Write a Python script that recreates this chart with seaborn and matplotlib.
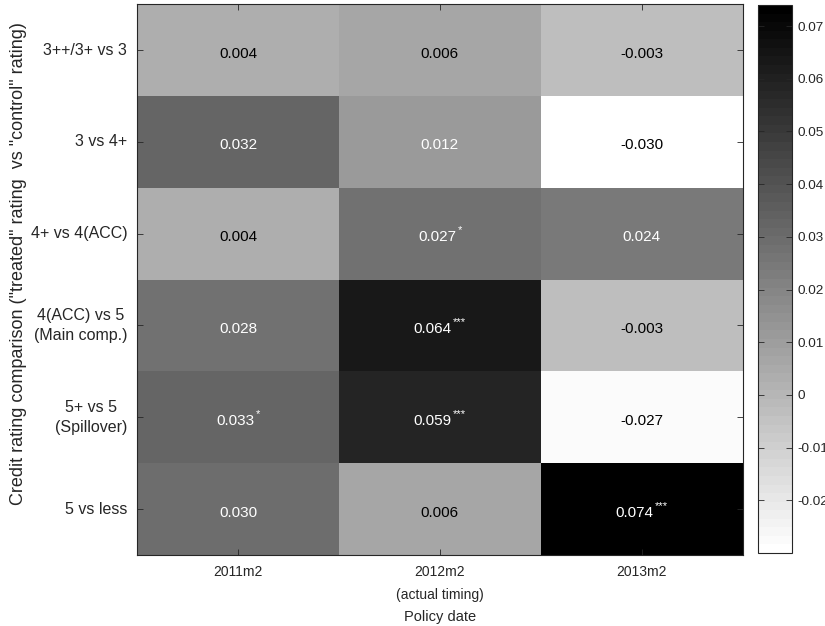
import numpy as np
import pandas as pd
import matplotlib
matplotlib.use("Agg")
import matplotlib.pyplot as plt
from matplotlib.colors import ListedColormap
from matplotlib.font_manager import FontProperties
import seaborn as sns

# Estimated effects by credit-rating comparison (rows) and policy date (columns)
comparisons = ["3++/3+ vs 3", "3 vs 4+", "4+ vs 4(ACC)",
               "4(ACC) vs 5\n(Main comp.)", "5+ vs 5\n(Spillover)", "5 vs less"]
policy_dates = ["2011m2", "2012m2\n(actual timing)", "2013m2"]

effect_2011m2 = [0.004, 0.032, 0.004, 0.028, 0.033, 0.030]
effect_2012m2 = [0.006, 0.012, 0.027, 0.064, 0.059, 0.006]
effect_2013m2 = [-0.003, -0.030, 0.024, -0.003, -0.027, 0.074]

stars_2011m2 = ["", "", "", "", "*", ""]
stars_2012m2 = ["", "", "*", "***", "***", ""]
stars_2013m2 = ["", "", "", "", "", "***"]

cbar_ticks = [-0.02, -0.01, 0, 0.01, 0.02, 0.03, 0.04, 0.05, 0.06, 0.07]

df = pd.DataFrame({policy_dates[0]: effect_2011m2,
                   policy_dates[1]: effect_2012m2,
                   policy_dates[2]: effect_2013m2}, index=comparisons)
stars = pd.DataFrame({policy_dates[0]: stars_2011m2,
                      policy_dates[1]: stars_2012m2,
                      policy_dates[2]: stars_2013m2}, index=comparisons)

plt.rcParams["font.family"] = ["Liberation Sans", "DejaVu Sans"]

text_col = "#262626"
cmap = ListedColormap(plt.get_cmap("gray_r")(np.linspace(0, 1, 64)))
vmin, vmax = df.values.min(), df.values.max()

DPI = 100
fig = plt.figure(figsize=(8.25, 6.26), dpi=DPI)
ax = fig.add_axes([0.166, 0.1134, 0.7345, 0.880])
cax = fig.add_axes([0.9188, 0.1166, 0.0412, 0.8754])

sns.heatmap(df, ax=ax, cmap=cmap, vmin=vmin, vmax=vmax, cbar=True, cbar_ax=cax,
            annot=False, linewidths=0)

# cell labels: value centred together with its significance stars
renderer = fig.canvas.get_renderer()
num_size, star_size, gap_pt = 11, 8, 1.0
num_prop = FontProperties(family="Liberation Sans", size=num_size)
star_prop = FontProperties(family="Liberation Sans", size=star_size)
px2pt = 72.0 / DPI
for i, row in enumerate(comparisons):
    for j, col in enumerate(policy_dates):
        v = df.loc[row, col]
        s = stars.loc[row, col]
        level = (v - vmin) / (vmax - vmin)
        color = "white" if level > 0.38 else "black"
        label = f"{v:.3f}"
        w_num = renderer.get_text_width_height_descent(label, num_prop, ismath=False)[0] * px2pt
        w_star = 0.0
        if s:
            w_star = renderer.get_text_width_height_descent(s, star_prop, ismath=False)[0] * px2pt + gap_pt
        shift = w_star / 2
        base_y = -5.4
        ax.annotate(label, xy=(j + 0.5, i + 0.5), xytext=(-shift, base_y),
                    textcoords="offset points", ha="center", va="baseline",
                    fontsize=num_size, color=color)
        if s:
            ax.annotate(s, xy=(j + 0.5, i + 0.5),
                        xytext=(-shift + w_num / 2 + gap_pt, base_y + 5.5),
                        textcoords="offset points", ha="left", va="baseline",
                        fontsize=star_size, color=color)

for sp in ax.spines.values():
    sp.set_visible(True)
    sp.set_color(text_col)
    sp.set_linewidth(0.8)

ax.tick_params(direction="in", top=True, right=True, length=4, width=0.6,
               color=text_col, labelcolor=text_col)
ax.tick_params(axis="y", labelsize=11.5, pad=7)
ax.tick_params(axis="x", labelsize=10, pad=7.5)
ax.set_yticklabels(comparisons, rotation=0, multialignment="center", linespacing=1.45)
ax.set_xticklabels(policy_dates, rotation=0, multialignment="center", linespacing=1.8)
ax.set_xlabel("Policy date", fontsize=10.5, color=text_col)
ax.set_ylabel('Credit rating comparison ("treated" rating  vs "control" rating)',
              fontsize=13, color=text_col)
ax.yaxis.set_label_coords(-0.182, 0.529)
ax.xaxis.set_label_coords(0.5, -0.1)

cax.set_yticks(cbar_ticks)
cax.set_yticklabels([f"{t:g}" for t in cbar_ticks])
cax.tick_params(direction="in", left=True, right=True, length=4, width=0.6,
                color=text_col, labelcolor=text_col, labelsize=9.7, pad=4)
cbar = ax.collections[0].colorbar
cbar.outline.set_visible(True)
cbar.outline.set_edgecolor(text_col)
cbar.outline.set_linewidth(0.8)

fig.savefig("out.png", dpi=DPI)
